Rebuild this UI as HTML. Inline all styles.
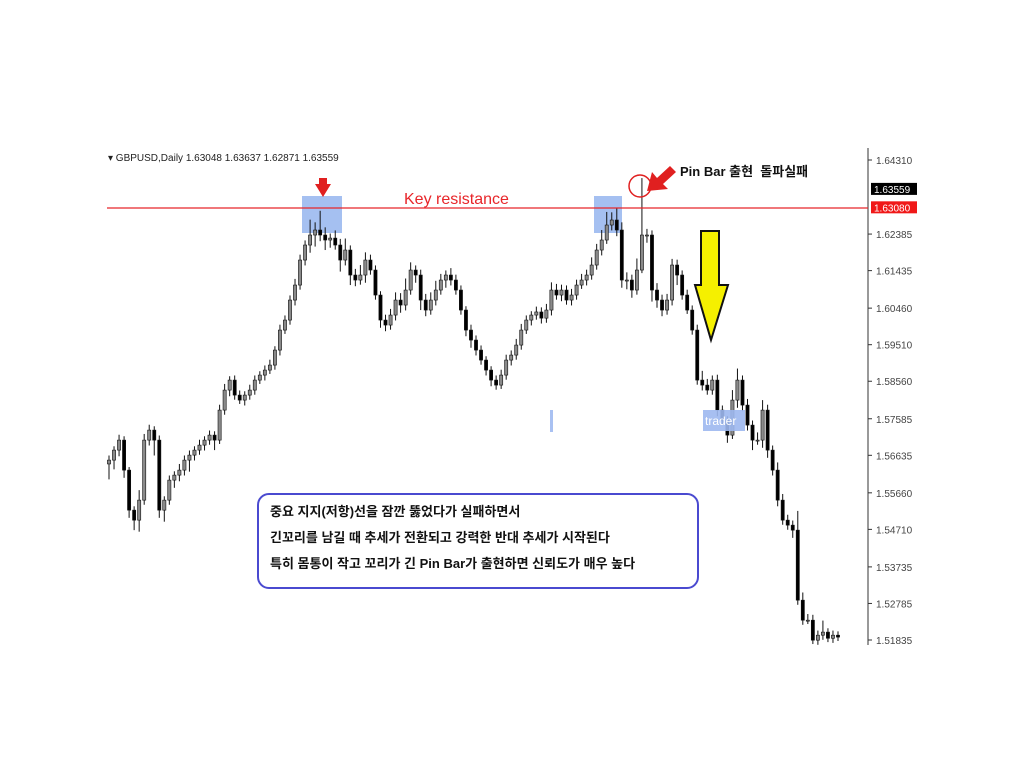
<!DOCTYPE html>
<html><head><meta charset="utf-8">
<style>
html,body{margin:0;padding:0;background:#fff;}
svg{display:block;}
text{font-family:"Liberation Sans","Noto Sans CJK KR",sans-serif;}
</style></head>
<body>
<svg id="chart" width="1024" height="774" viewBox="0 0 1024 774" xmlns="http://www.w3.org/2000/svg">
  <rect x="0" y="0" width="1024" height="774" fill="#fff"/>
  <g id="hl">
    <rect x="302" y="196" width="40" height="37" fill="#8fb0ee" opacity="0.8"/>
    <rect x="594" y="196" width="28" height="37" fill="#8fb0ee" opacity="0.8"/>
  </g>
  <g id="candles"></g>
  <g id="axis"></g>
  <line x1="107" y1="208" x2="868" y2="208" stroke="#e8262a" stroke-width="1.2"/>
  <text x="404" y="204" font-size="16" fill="#e8262a">Key resistance</text>
  <text x="108" y="161" font-size="10" fill="#222">▾ GBPUSD,Daily  1.63048 1.63637 1.62871 1.63559</text>
  <polygon points="315,184 331,184 323,197" fill="#e02020"/>
  <rect x="319" y="178" width="8" height="7" fill="#e02020"/>
  <circle cx="640" cy="186" r="11" fill="none" stroke="#e02020" stroke-width="1.5"/>
  <polygon points="647,191 652,172 657,178 670,166 676,172 663,184 668,189" fill="#e02020"/>
  <text x="680" y="176" font-size="13" font-weight="bold" fill="#111">Pin Bar 출현&#160;&#160;돌파실패</text>
  <polygon points="701,231 719,231 719,285 728,285 711,340 695,285 701,285" fill="#f5f000" stroke="#111" stroke-width="2"/>
  <rect x="550" y="410" width="3" height="22" fill="#a9c1f2"/>
  <rect x="703" y="410" width="42" height="21" fill="#9db8f0" opacity="0.9"/>
  <text x="705" y="425" font-size="12" fill="#fff">trader</text>
  <rect x="258" y="494" width="440" height="94" rx="11" fill="#fff" stroke="#4a4ad0" stroke-width="2"/>
  <text x="270" y="516" font-size="13" font-weight="bold" fill="#111">중요 지지(저항)선을 잠깐 뚫었다가 실패하면서</text>
  <text x="270" y="542" font-size="13" font-weight="bold" fill="#111">긴꼬리를 남길 때 추세가 전환되고 강력한 반대 추세가 시작된다</text>
  <text x="270" y="568" font-size="13" font-weight="bold" fill="#111">특히 몸통이 작고 꼬리가 긴 Pin Bar가 출현하면 신뢰도가 매우 높다</text>
</svg>
<script>
const closes = [1.5651,1.5677,1.5703,1.5625,1.5521,1.5495,1.5547,1.5703,1.5729,1.5703,1.5521,1.5547,1.5599,1.5612,1.5625,1.5651,1.5664,1.5677,1.5690,1.5703,1.5716,1.5703,1.5781,1.5833,1.5859,1.5820,1.5807,1.5820,1.5833,1.5859,1.5872,1.5885,1.5898,1.5937,1.5989,1.6015,1.6067,1.6106,1.6171,1.6210,1.6236,1.6249,1.6236,1.6223,1.6228,1.6210,1.6171,1.6197,1.6132,1.6119,1.6132,1.6171,1.6145,1.6080,1.6015,1.6002,1.6028,1.6067,1.6054,1.6093,1.6145,1.6132,1.6067,1.6041,1.6067,1.6093,1.6119,1.6132,1.6119,1.6093,1.6041,1.5989,1.5963,1.5937,1.5911,1.5885,1.5859,1.5846,1.5872,1.5911,1.5924,1.5950,1.5989,1.6015,1.6028,1.6036,1.6020,1.6041,1.6093,1.6080,1.6093,1.6067,1.6080,1.6106,1.6119,1.6132,1.6158,1.6197,1.6223,1.6262,1.6275,1.6249,1.6119,1.6119,1.6093,1.6145,1.6236,1.6236,1.6093,1.6067,1.6041,1.6067,1.6158,1.6132,1.6080,1.6041,1.5989,1.5859,1.5846,1.5833,1.5859,1.5781,1.5755,1.5716,1.5807,1.5859,1.5794,1.5742,1.5703,1.5703,1.5781,1.5677,1.5625,1.5547,1.5495,1.5482,1.5469,1.5287,1.5235,1.5235,1.5183,1.5196,1.5204,1.5188,1.5196,1.5191];
const wickUp = [0.0012,0.0010,0.0014,0.0010,0.0008,0.0010,0.0026,0.0016,0.0014,0.0010,0.0012,0.0010,0.0012,0.0010,0.0016,0.0012,0.0012,0.0010,0.0014,0.0010,0.0012,0.0010,0.0014,0.0016,0.0010,0.0012,0.0012,0.0010,0.0014,0.0012,0.0010,0.0012,0.0014,0.0010,0.0014,0.0012,0.0012,0.0016,0.0014,0.0012,0.0040,0.0020,0.0050,0.0020,0.0012,0.0020,0.0016,0.0030,0.0012,0.0016,0.0026,0.0020,0.0014,0.0012,0.0010,0.0014,0.0016,0.0020,0.0018,0.0030,0.0020,0.0012,0.0014,0.0016,0.0020,0.0024,0.0016,0.0012,0.0018,0.0014,0.0012,0.0010,0.0014,0.0012,0.0012,0.0010,0.0010,0.0012,0.0014,0.0014,0.0012,0.0016,0.0016,0.0012,0.0010,0.0014,0.0012,0.0016,0.0020,0.0016,0.0014,0.0012,0.0016,0.0014,0.0016,0.0014,0.0020,0.0016,0.0026,0.0034,0.0020,0.0030,0.0020,0.0020,0.0014,0.0030,0.0148,0.0016,0.0012,0.0018,0.0014,0.0016,0.0016,0.0014,0.0012,0.0014,0.0012,0.0014,0.0024,0.0016,0.0012,0.0014,0.0012,0.0010,0.0026,0.0030,0.0012,0.0016,0.0012,0.0020,0.0026,0.0014,0.0012,0.0020,0.0016,0.0014,0.0012,0.0050,0.0020,0.0016,0.0014,0.0012,0.0030,0.0010,0.0012,0.0010];
const wickDown = [0.0040,0.0024,0.0016,0.0020,0.0020,0.0026,0.0030,0.0012,0.0014,0.0040,0.0020,0.0030,0.0012,0.0020,0.0016,0.0014,0.0030,0.0014,0.0012,0.0014,0.0012,0.0026,0.0010,0.0012,0.0016,0.0012,0.0010,0.0014,0.0012,0.0012,0.0010,0.0014,0.0010,0.0012,0.0014,0.0010,0.0012,0.0014,0.0012,0.0014,0.0020,0.0030,0.0016,0.0026,0.0020,0.0012,0.0030,0.0014,0.0026,0.0016,0.0012,0.0020,0.0012,0.0012,0.0020,0.0016,0.0012,0.0014,0.0020,0.0014,0.0012,0.0020,0.0026,0.0016,0.0012,0.0014,0.0012,0.0020,0.0014,0.0012,0.0012,0.0016,0.0020,0.0014,0.0012,0.0014,0.0016,0.0012,0.0010,0.0012,0.0014,0.0012,0.0012,0.0010,0.0014,0.0012,0.0014,0.0012,0.0014,0.0012,0.0016,0.0012,0.0014,0.0012,0.0010,0.0014,0.0012,0.0012,0.0014,0.0010,0.0014,0.0016,0.0020,0.0024,0.0020,0.0012,0.0008,0.0020,0.0030,0.0020,0.0016,0.0012,0.0014,0.0026,0.0012,0.0010,0.0012,0.0012,0.0014,0.0012,0.0012,0.0016,0.0012,0.0020,0.0010,0.0020,0.0016,0.0014,0.0026,0.0012,0.0020,0.0020,0.0014,0.0016,0.0012,0.0012,0.0020,0.0012,0.0012,0.0010,0.0010,0.0012,0.0012,0.0010,0.0012,0.0010];
const tickLabels = ["1.64310","1.62385","1.61435","1.60460","1.59510","1.58560","1.57585","1.56635","1.55660","1.54710","1.53735","1.52785","1.51835"];
const lastPrice = 1.63559;
const resistancePrice = 1.63080;

const NS = "http://www.w3.org/2000/svg";
const pTop = 1.64310, pBot = 1.51835, yTop = 160, yBot = 640;
function yScale(p){ return yTop + (pTop - p) / (pTop - pBot) * (yBot - yTop); }
const x0 = 109, x1 = 838;
function xScale(i){ return x0 + i * (x1 - x0) / (closes.length - 1); }

const cg = document.getElementById('candles');
for (let i = 0; i < closes.length; i++) {
  const c = closes[i];
  const o = i === 0 ? closes[0] - 0.0010 : closes[i-1];
  const hi = Math.max(o, c) + wickUp[i];
  const lo = Math.min(o, c) - wickDown[i];
  const x = xScale(i);
  const clipY = v => Math.min(v, 645);
  const wick = document.createElementNS(NS, 'line');
  wick.setAttribute('x1', x); wick.setAttribute('x2', x);
  wick.setAttribute('y1', yScale(hi)); wick.setAttribute('y2', clipY(yScale(lo)));
  wick.setAttribute('stroke', '#111'); wick.setAttribute('stroke-width', '1');
  
  
  cg.appendChild(wick);
  const top = yScale(Math.max(o, c)), bot = clipY(yScale(Math.min(o, c)));
  const body = document.createElementNS(NS, 'rect');
  body.setAttribute('x', x - 1.6); body.setAttribute('width', 3.2);
  body.setAttribute('y', top); body.setAttribute('height', Math.max(1, bot - top));
  body.setAttribute('fill', c >= o ? '#8a8a8a' : '#000');
  body.setAttribute('stroke', '#111'); body.setAttribute('stroke-width', '0.6');
  
  
  cg.appendChild(body);
}

const ag = document.getElementById('axis');
const axLine = document.createElementNS(NS, 'line');
axLine.setAttribute('x1', 868); axLine.setAttribute('x2', 868);
axLine.setAttribute('y1', 148); axLine.setAttribute('y2', 645);
axLine.setAttribute('stroke', '#333');


ag.appendChild(axLine);
tickLabels.forEach(t => {
  const y = yScale(parseFloat(t));
  const tk = document.createElementNS(NS, 'line');
  tk.setAttribute('x1', 868); tk.setAttribute('x2', 872);
  tk.setAttribute('y1', y); tk.setAttribute('y2', y); tk.setAttribute('stroke', '#333');
  
  
  ag.appendChild(tk);
  const tx = document.createElementNS(NS, 'text');
  tx.setAttribute('x', 876); tx.setAttribute('y', y + 4);
  tx.setAttribute('font-size', '10'); tx.setAttribute('fill', '#444');
  tx.textContent = t;
  
  
  ag.appendChild(tx);
});
function priceTag(p, bg, name){
  const y = yScale(p);
  const r = document.createElementNS(NS, 'rect');
  r.setAttribute('x', 871); r.setAttribute('y', y - 6); r.setAttribute('width', 46); r.setAttribute('height', 12);
  r.setAttribute('fill', bg);
  
  
  ag.appendChild(r);
  const t = document.createElementNS(NS, 'text');
  t.setAttribute('x', 874); t.setAttribute('y', y + 4);
  t.setAttribute('font-size', '10'); t.setAttribute('fill', '#fff');
  t.textContent = p.toFixed(5);
  
  
  ag.appendChild(t);
}
priceTag(lastPrice, '#000', 'last-price-tag');
priceTag(resistancePrice, '#f01818', 'resistance-price-tag');
</script>
</body></html>
